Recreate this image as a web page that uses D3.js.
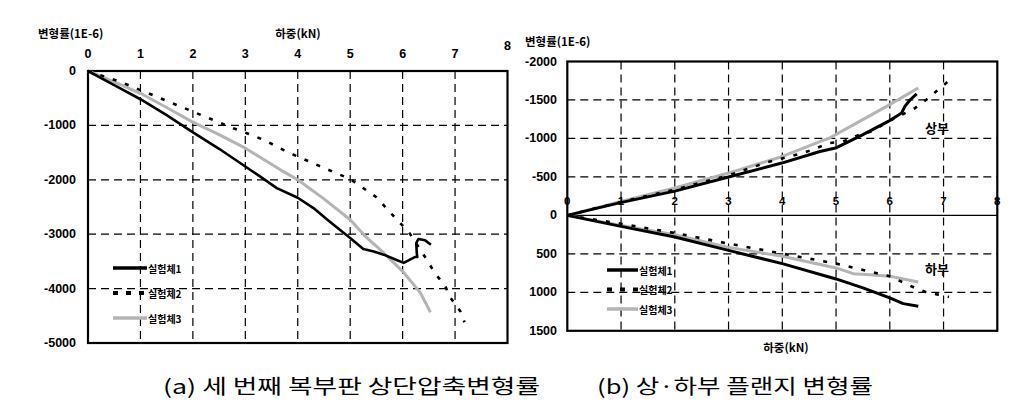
<!DOCTYPE html>
<html><head><meta charset="utf-8">
<script src="https://cdn.jsdelivr.net/npm/d3@7"></script>
<style>body{margin:0;background:#fff}svg{display:block}</style>
</head><body>
<svg id="c" width="1018" height="410"></svg>
<script>
// ---------- DATA ----------
const xTicks = [0,1,2,3,4,5,6,7,8];
const leftYTicks = [0,-1000,-2000,-3000,-4000,-5000];
const rightYTicks = [-2000,-1500,-1000,-500,0,500,1000,1500];
const seriesNames = ["실험체1","실험체2","실험체3"];

// (a) left chart: [load kN, strain 1E-6]
const aS1 = [[0,0],[0.5,-260],[1.0,-519],[1.5,-810],[1.98,-1113],[2.5,-1430],[3.0,-1756],[3.3,-1950],[3.6,-2153],[4.0,-2330],[4.3,-2520],[4.6,-2760],[5.0,-3070],[5.25,-3272],[5.45,-3320],[5.64,-3376],[5.85,-3460],[6.02,-3528],[6.14,-3468],[6.24,-3418],[6.28,-3420],[6.27,-3345],[6.26,-3162],[6.30,-3088],[6.43,-3113],[6.54,-3193]];
const aS2 = [[0,0],[0.61,-196],[1.12,-398],[1.69,-624],[2.23,-838],[2.77,-1052],[3.03,-1143],[3.35,-1266],[3.85,-1510],[4.4,-1740],[5.0,-1987],[5.5,-2320],[5.89,-2734],[6.11,-2948],[6.46,-3468],[6.62,-3725],[6.81,-3945],[6.9,-4152],[7.1,-4416],[7.18,-4618]];
const aS3 = [[0,0],[0.5,-200],[1.0,-410],[1.5,-670],[1.98,-930],[2.5,-1170],[3.0,-1419],[3.67,-1817],[4.0,-2000],[4.5,-2350],[5.0,-2734],[5.3,-3050],[5.64,-3345],[6.0,-3682],[6.34,-4079],[6.53,-4434]];

// (b) right chart upper flange (상부)
const bUp1 = [[0,0],[0.5,-85],[1.01,-169],[2.0,-315],[3.0,-499],[3.99,-680],[4.7,-830],[4.99,-875],[5.5,-1050],[5.97,-1221],[6.22,-1330],[6.28,-1416],[6.38,-1503],[6.5,-1580]];
const bUp2 = [[0,0],[1.0,-175],[2.0,-335],[3.0,-520],[3.71,-688],[4.39,-810],[4.88,-940],[5.13,-961],[5.44,-1048],[5.66,-1091],[6.0,-1230],[6.47,-1395],[6.68,-1503],[6.86,-1610],[7.06,-1727],[7.18,-1814]];
const bUp3 = [[0,0],[1.0,-180],[2.0,-356],[3.0,-550],[4.0,-766],[4.7,-960],[4.88,-1005],[5.33,-1180],[5.94,-1416],[6.53,-1655]];
// (b) right chart lower flange (하부)
const bLo1 = [[0,0],[1.0,143],[2.0,281],[3.0,455],[4.0,627],[5.0,826],[5.5,943],[6.0,1073],[6.25,1147],[6.53,1182]];
const bLo2 = [[0,0],[1.0,108],[2.0,229],[3.0,367],[4.0,497],[5.0,627],[6.0,792],[6.47,943],[6.68,1000],[6.9,1030],[7.1,1060]];
const bLo3 = [[0,0],[1.0,130],[2.0,251],[3.0,416],[4.0,532],[5.0,683],[5.32,757],[5.63,770],[6.0,792],[6.53,865]];

// ---------- DRAW ----------
const svg = d3.select("#c");
const NUM = "'Liberation Sans', Arial, 'Noto Sans CJK KR', sans-serif";
const KR = "'Noto Sans CJK KR', 'Liberation Sans', sans-serif";

const styles = [
  {stroke:"#000", width:2.6, dash:null},
  {stroke:"#000", width:2.6, dash:"4,9"},
  {stroke:"#b4b4b4", width:3, dash:null}
];

function gridAndFrame(g, x, y, xs, ys, xr, yr){
  g.selectAll(".vg").data(xs).join("line")
    .attr("x1", d=>x(d)).attr("x2", d=>x(d)).attr("y1", yr[0]).attr("y2", yr[1])
    .attr("stroke","#000").attr("stroke-width",1.2).attr("stroke-dasharray","8,5");
  g.selectAll(".hg").data(ys).join("line")
    .attr("y1", d=>y(d)).attr("y2", d=>y(d)).attr("x1", xr[0]).attr("x2", xr[1])
    .attr("stroke","#000").attr("stroke-width",1.2).attr("stroke-dasharray","8,5");
}

// ===== Left chart =====
const xL = d3.scaleLinear().domain([0,8]).range([88,507.5]);
const yL = d3.scaleLinear().domain([0,-5000]).range([71,343]);
const gL = svg.append("g");
gridAndFrame(gL, xL, yL, xTicks.slice(1,8), leftYTicks.slice(1,5), [88,507.5], [71,343]);
gL.append("rect").attr("x",88).attr("y",71).attr("width",419.5).attr("height",272)
  .attr("fill","none").attr("stroke","#000").attr("stroke-width",2.2);

const lineL = d3.line().x(d=>xL(d[0])).y(d=>yL(d[1]));
[aS3, aS1, aS2].forEach((s,i)=>{
  const st = styles[[2,0,1][i]];
  gL.append("path").attr("d", lineL(s)).attr("fill","none")
    .attr("stroke",st.stroke).attr("stroke-width",st.width)
    .attr("stroke-dasharray",st.dash).attr("stroke-linejoin","round");
});

gL.selectAll(".xt").data(xTicks).join("text")
  .attr("x", d=>xL(d)).attr("y", d=> d===8 ? 46 : 54)
  .attr("text-anchor","middle").attr("dominant-baseline","central")
  .attr("font-family",NUM).attr("font-weight","bold").attr("font-size",12.5)
  .text(d=>d);
gL.selectAll(".yt").data(leftYTicks).join("text")
  .attr("x", 76).attr("y", d=>yL(d))
  .attr("text-anchor","end").attr("dominant-baseline","central")
  .attr("font-family",NUM).attr("font-weight","bold").attr("font-size",12.5)
  .text(d=>d);
gL.append("text").attr("x",38).attr("y",33).attr("dominant-baseline","central")
  .attr("font-family",KR).attr("font-weight","bold").attr("font-size",11.5).text("변형률(1E-6)");
gL.append("text").attr("x",298).attr("y",33).attr("text-anchor","middle").attr("dominant-baseline","central")
  .attr("font-family",KR).attr("font-weight","bold").attr("font-size",11.5).text("하중(kN)");

function legend(g, x1, x2, ys, dashLegend){
  seriesNames.forEach((n,i)=>{
    const st = styles[i];
    g.append("line").attr("x1",x1).attr("x2",x2).attr("y1",ys[i]).attr("y2",ys[i])
      .attr("stroke",st.stroke).attr("stroke-width", i===1?4:3.5)
      .attr("stroke-dasharray", i===1?dashLegend:null);
    g.append("text").attr("x",x2+1).attr("y",ys[i]).attr("dominant-baseline","central")
      .attr("font-family",KR).attr("font-weight","bold").attr("font-size",10).text(n);
  });
}
legend(gL, 113, 147, [268, 293, 318], "5,8");

// ===== Right chart =====
const xR = d3.scaleLinear().domain([0,8]).range([567.3,997.3]);
const yR = d3.scaleLinear().domain([-2000,1500]).range([61.5,330.8]);
const gR = svg.append("g");
gridAndFrame(gR, xR, yR, xTicks.slice(1,8), [-1500,-1000,-500,500,1000], [567.3,997.3], [61.5,330.8]);
gR.append("line").attr("x1",567.3).attr("x2",997.3).attr("y1",yR(0)).attr("y2",yR(0))
  .attr("stroke","#000").attr("stroke-width",1.2);
gR.append("rect").attr("x",567.3).attr("y",61.5).attr("width",430).attr("height",269.3)
  .attr("fill","none").attr("stroke","#000").attr("stroke-width",2.2);

const lineR = d3.line().x(d=>xR(d[0])).y(d=>yR(d[1]));
const rSets = [[bUp3,2],[bLo3,2],[bUp1,0],[bLo1,0],[bUp2,1],[bLo2,1]];
rSets.forEach(([s,k])=>{
  const st = styles[k];
  gR.append("path").attr("d", lineR(s)).attr("fill","none")
    .attr("stroke",st.stroke).attr("stroke-width", k===0?3:st.width)
    .attr("stroke-dasharray",st.dash).attr("stroke-linejoin","round");
});

gR.selectAll(".xt").data(xTicks).join("text")
  .attr("x", d=>xR(d)).attr("y", 201)
  .attr("text-anchor","middle").attr("dominant-baseline","central")
  .attr("font-family",NUM).attr("font-weight","bold").attr("font-size",11.5)
  .text(d=>d);
gR.selectAll(".yt").data(rightYTicks).join("text")
  .attr("x", 557).attr("y", d=>yR(d))
  .attr("text-anchor","end").attr("dominant-baseline","central")
  .attr("font-family",NUM).attr("font-weight","bold").attr("font-size",12.5)
  .text(d=>d);
gR.append("text").attr("x",525).attr("y",41).attr("dominant-baseline","central")
  .attr("font-family",KR).attr("font-weight","bold").attr("font-size",11.5).text("변형률(1E-6)");
gR.append("text").attr("x",786).attr("y",347).attr("text-anchor","middle").attr("dominant-baseline","central")
  .attr("font-family",KR).attr("font-weight","bold").attr("font-size",11.5).text("하중(kN)");
gR.append("text").attr("x",937).attr("y",127).attr("text-anchor","middle").attr("dominant-baseline","central")
  .attr("font-family",KR).attr("font-weight","bold").attr("font-size",13).text("상부");
gR.append("text").attr("x",937).attr("y",268).attr("text-anchor","middle").attr("dominant-baseline","central")
  .attr("font-family",KR).attr("font-weight","bold").attr("font-size",13).text("하부");
legend(gR, 607, 638, [270, 289.5, 309], "5,8");

// ===== Captions =====
svg.append("text").attr("x",163).attr("y",385).attr("dominant-baseline","central")
  .attr("font-family",KR).attr("font-size",20).attr("textLength",377).attr("lengthAdjust","spacingAndGlyphs")
  .text("(a) 세 번째 복부판 상단압축변형률");
svg.append("text").attr("x",597).attr("y",385).attr("dominant-baseline","central")
  .attr("font-family",KR).attr("font-size",20).attr("textLength",276).attr("lengthAdjust","spacingAndGlyphs")
  .text("(b) 상·하부 플랜지 변형률");
</script>
</body></html>
